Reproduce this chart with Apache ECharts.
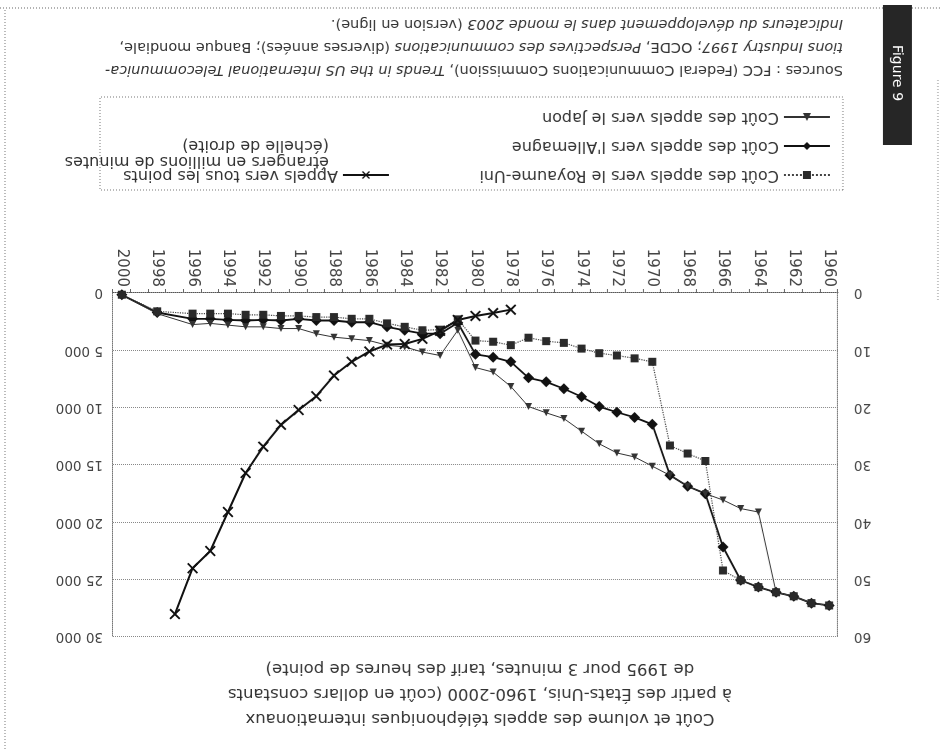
<!DOCTYPE html>
<html>
<head>
<meta charset="utf-8">
<script src="https://cdn.jsdelivr.net/npm/echarts@6/dist/echarts.min.js"></script>
<style>
  html, body { margin: 0; padding: 0; background: #fff; }
  #page { width: 940px; height: 749px; transform: rotate(180deg); transform-origin: 50% 50%; }
  #chart { width: 940px; height: 749px; }
</style>
</head>
<body>
<div id="page"><div id="chart"></div></div>
<script>
// ---- data ----
const years = ['1960','1961','1962','1963','1964','1965','1966','1967','1968','1969',
  '1970','1971','1972','1973','1974','1975','1976','1977','1978','1979',
  '1980','1981','1982','1983','1984','1985','1986','1987','1988','1989',
  '1990','1991','1992','1993','1994','1995','1996','1997','1998','1999','2000'];

const costUK = [54.5,54.1,52.9,52.2,51.3,50.1,48.4,29.3,28.0,26.6,
  12.0,11.4,10.9,10.5,9.7,8.7,8.4,7.8,9.1,8.5,
  8.3,4.6,6.4,6.5,5.9,5.3,4.5,4.5,4.2,4.2,
  4.0,4.0,3.8,3.8,3.6,3.6,3.6,null,3.2,null,
  0.3];

const costGermany = [54.5,54.1,52.9,52.2,51.3,50.1,44.3,35.0,33.7,31.8,
  22.9,21.7,20.8,19.8,18.1,16.7,15.5,14.8,12.0,11.2,
  10.7,5.2,7.1,7.1,6.5,5.9,5.1,5.1,4.8,4.8,
  4.5,4.8,4.7,4.8,4.7,4.5,4.5,null,3.4,null,
  0.3];

const costJapan = [54.5,54.1,52.9,52.2,38.2,37.6,36.1,35.0,33.7,31.8,
  30.2,28.6,27.9,26.3,24.1,21.9,20.9,19.8,16.3,13.8,
  13.0,6.5,10.9,10.3,9.4,9.1,8.3,8.0,7.7,7.1,
  6.2,6.2,5.9,5.9,5.6,5.3,5.5,null,3.6,null,
  0.4];

const volumeMinutes = [null,null,null,null,null,null,null,null,null,null,
  null,null,null,null,null,null,null,null,1450,1750,
  2000,2350,3300,4000,4450,4500,5100,6000,7200,9000,
  10200,11500,13400,15700,19100,22500,24000,28000,null,null,
  null];

const leftTicks = [0,10,20,30,40,50,60];
const rightTicks = [0,5000,10000,15000,20000,25000,30000];

const nameUK = 'Coût des appels vers le Royaume-Uni';
const nameDE = "Coût des appels vers l'Allemagne";
const nameJP = 'Coût des appels vers le Japon';
const nameVol = 'Appels vers tous les points';
const nameVolMore = ['étrangers en millions de minutes', '(échelle de droite)'];

const titleLines = [
  'Coût et volume des appels téléphoniques internationaux',
  'à partir des États-Unis, 1960-2000 (coût en dollars constants',
  'de 1995 pour 3 minutes, tarif des heures de pointe)'
];

// ---- chart ----
const FONT = "'DejaVu Sans', 'Liberation Sans', sans-serif";
const chart = echarts.init(document.getElementById('chart'), null, { renderer: 'canvas' });
const xSym = 'path://M0,1.2 L1.2,0 L5,3.8 L8.8,0 L10,1.2 L6.2,5 L10,8.8 L8.8,10 L5,6.2 L1.2,10 L0,8.8 L3.8,5 Z';
const fmtThousands = v => String(v).replace(/\B(?=(\d{3})+(?!\d))/g, ' ');

const option = {
  animation: false,
  backgroundColor: '#fff',
  title: {
    text: titleLines.join('\n'),
    left: 455, top: 13, textAlign: 'center',
    textStyle: { fontFamily: FONT, fontSize: 16.5, fontWeight: 'normal', color: '#333', lineHeight: 25 }
  },
  grid: { left: 102, right: 113, top: 112, bottom: 293 },
  legend: [
    {
      data: [nameUK, nameDE, nameJP],
      orient: 'vertical', left: 104, top: 561,
      itemWidth: 46, itemHeight: 10, itemGap: 13,
      textStyle: { fontFamily: FONT, fontSize: 16, color: '#333' }
    },
    {
      data: [nameVol],
      orient: 'vertical', left: 545, top: 561,
      itemWidth: 46, itemHeight: 10,
      textStyle: { fontFamily: FONT, fontSize: 16, color: '#333' }
    }
  ],
  xAxis: {
    type: 'category', data: years, boundaryGap: true,
    axisLine: { lineStyle: { color: '#555', type: 'dotted', width: 1 } },
    axisTick: { show: true, interval: 0, length: 4, lineStyle: { color: '#666' } },
    axisLabel: { interval: 1, rotate: 90, margin: 6, fontFamily: FONT, fontSize: 15, color: '#444' },
    splitLine: { show: false }
  },
  yAxis: [
    {
      type: 'value', min: leftTicks[0], max: leftTicks[leftTicks.length - 1], interval: 10, position: 'left',
      axisLine: { show: true, lineStyle: { color: '#777', type: 'dotted' } },
      axisTick: { show: false },
      axisLabel: { margin: 16, fontFamily: FONT, fontSize: 13.5, color: '#444' },
      splitLine: { show: true, lineStyle: { color: '#888', type: 'dotted', width: 1 } }
    },
    {
      type: 'value', min: rightTicks[0], max: rightTicks[rightTicks.length - 1], interval: 5000, position: 'right',
      axisLine: { show: true, lineStyle: { color: '#777', type: 'dotted' } },
      axisTick: { show: false },
      axisLabel: { margin: 10, fontFamily: FONT, fontSize: 13.5, color: '#444', formatter: fmtThousands },
      splitLine: { show: false }
    }
  ],
  series: [
    {
      name: nameDE, type: 'line', yAxisIndex: 0, data: costGermany, connectNulls: true,
      symbol: 'diamond', symbolSize: 11, showAllSymbol: true,
      lineStyle: { color: '#111', width: 1.8 }, itemStyle: { color: '#111' }
    },
    {
      name: nameJP, type: 'line', yAxisIndex: 0, data: costJapan, connectNulls: true,
      symbol: 'triangle', symbolSize: 7, showAllSymbol: true,
      lineStyle: { color: '#333', width: 1 }, itemStyle: { color: '#333' }
    },
    {
      name: nameUK, type: 'line', yAxisIndex: 0, data: costUK, connectNulls: true,
      symbol: 'rect', symbolSize: 8, showAllSymbol: true,
      lineStyle: { color: '#444', width: 1.2, type: 'dotted' }, itemStyle: { color: '#2a2a2a' }
    },
    {
      name: nameVol, type: 'line', yAxisIndex: 1, data: volumeMinutes, connectNulls: false,
      symbol: xSym, symbolSize: 11, showAllSymbol: true,
      lineStyle: { color: '#111', width: 2 }, itemStyle: { color: '#111' }
    }
  ],
  graphic: [
    { type: 'rect', shape: { x: 97, y: 559, width: 743, height: 93 },
      style: { fill: 'none', stroke: '#777', lineWidth: 1, lineDash: [1, 2] }, silent: true },
    { type: 'text', x: 611, y: 580,
      style: { text: nameVolMore.join('\n'), fontFamily: FONT, fontSize: 16, fill: '#333', lineHeight: 16 } },
    { type: 'text', x: 97, y: 668,
      style: {
        text: '{n|Sources : FCC (Federal Communications Commission), }{i|Trends in the US International Telecommunica-}\n' +
              '{i|tions Industry 1997}{n|; OCDE, }{i|Perspectives des communications}{n| (diverses années); Banque mondiale,}\n' +
              '{i|Indicateurs du développement dans le monde 2003}{n| (version en ligne).}',
        fill: '#333',
        rich: {
          n: { fontFamily: FONT, fontSize: 14.5, fill: '#333', lineHeight: 23 },
          i: { fontFamily: FONT, fontSize: 14.5, fontStyle: 'italic', fill: '#333', lineHeight: 23 }
        }
      } },
    { type: 'rect', shape: { x: 28, y: 604, width: 29, height: 140 }, style: { fill: '#262626' }, silent: true },
    { type: 'text', x: 43, y: 676, rotation: Math.PI / 2,
      style: { text: 'Figure 9', fontFamily: FONT, fontSize: 14, fill: '#fff', align: 'center', verticalAlign: 'middle' } },
    { type: 'line', shape: { x1: 0, y1: 741, x2: 28, y2: 741 }, style: { stroke: '#666', lineDash: [1, 2] } },
    { type: 'line', shape: { x1: 57, y1: 741, x2: 940, y2: 741 }, style: { stroke: '#666', lineDash: [1, 2] } },
    { type: 'line', shape: { x1: 935, y1: 0, x2: 935, y2: 741 }, style: { stroke: '#777', lineDash: [1, 2] } },
    { type: 'line', shape: { x1: 2, y1: 449, x2: 2, y2: 669 }, style: { stroke: '#888', lineDash: [1, 2] } }
  ]
};
chart.setOption(option);
</script>
</body>
</html>
